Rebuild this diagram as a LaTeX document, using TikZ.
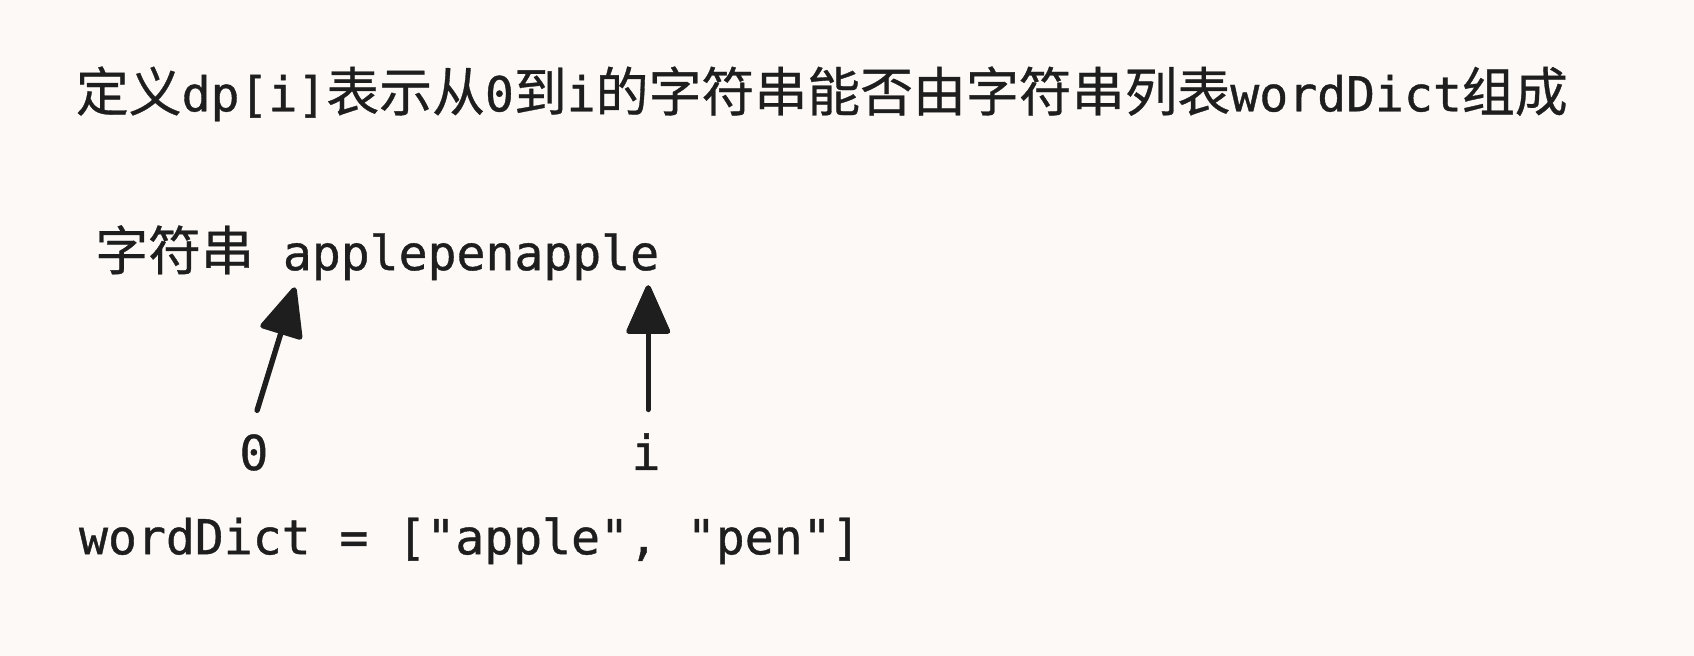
\documentclass[tikz,border=0pt]{standalone}
\usepackage{fontspec}
\usepackage{tikz}
\usetikzlibrary{arrows.meta}
\setmonofont{DejaVu Sans Mono}[FakeBold=0.8]
\newfontfamily\cjk{Noto Sans CJK SC}[Scale=1.1,FakeBold=0.6]
\definecolor{paper}{RGB}{252,249,247}
\definecolor{ink}{RGB}{30,30,30}
\newcommand{\zh}[1]{{\cjk #1}}

\begin{document}
\begin{tikzpicture}[x=1pt, y=-1pt,
  txt/.style={anchor=base west, inner sep=0pt, text=ink, font=\fontsize{44.5}{50}\selectfont\ttfamily},
  ptr/.style={draw=ink, line width=5pt, line cap=round, -{Triangle[length=49pt, width=42pt, round]}}]
  \fill[paper] (0,0) rectangle (1568,607);
  \useasboundingbox (0,0) rectangle (1568,607);
  \node[txt] (title) at (70,103) {\zh{定义}dp[i]\zh{表示从}0\zh{到}i\zh{的字符串能否由字符串列表}wordDict\zh{组成}};
  \node[txt] (str) at (88,250) {\zh{字符串} applepenapple};
  \node[txt, anchor=base] (zero) at (235,435) {0};
  \node[txt, anchor=base] (idx) at (598,435) {i};
  \node[txt] (dict) at (73,513) {wordDict = ["apple", "pen"]};
  \coordinate (tip0) at (273,266);
  \coordinate (tipi) at (600,264);
  \draw[ptr] ([xshift=3pt, yshift=22pt]zero.north) -- (tip0);
  \draw[ptr] ([xshift=2pt, yshift=22pt]idx.north) -- (tipi);
\end{tikzpicture}
\end{document}
